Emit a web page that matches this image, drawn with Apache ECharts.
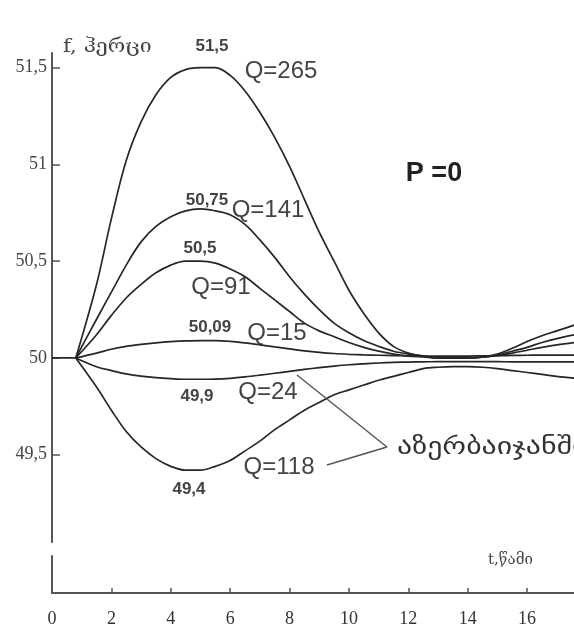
<!DOCTYPE html>
<html>
<head>
<meta charset="utf-8">
<script src="https://cdn.jsdelivr.net/npm/echarts@6/dist/echarts.min.js"></script>
<style>
html,body{margin:0;padding:0;background:#fff;}
#chart{width:574px;height:633px;}
</style>
</head>
<body>
<div id="chart"></div>
<script>
// ---- data ----
const baseT = [0, 0.8];
const baseF = [50, 50];
const tValues = [0.8,1.5,2,2.5,3,3.5,4,4.5,5,5.5,6,6.5,7,7.5,8,8.5,9,9.5,10,10.5,11,11.5,12,12.5,13,13.5,14,14.5,15,15.5,16,16.5,17,17.6];
const q265 = [50,50.38,50.72,51.02,51.22,51.36,51.45,51.49,51.5,51.5,51.46,51.38,51.27,51.14,50.99,50.82,50.65,50.5,50.35,50.23,50.13,50.06,50.025,50.01,50,50,50,50.005,50.02,50.05,50.085,50.115,50.14,50.17];
const q141 = [50,50.2,50.34,50.48,50.6,50.68,50.73,50.76,50.77,50.76,50.74,50.69,50.61,50.52,50.42,50.33,50.25,50.18,50.13,50.09,50.06,50.035,50.02,50.01,50,50,50,50.005,50.015,50.035,50.055,50.08,50.1,50.12];
const q91  = [50,50.12,50.22,50.31,50.38,50.44,50.48,50.5,50.5,50.49,50.46,50.42,50.36,50.3,50.24,50.18,50.14,50.11,50.08,50.055,50.035,50.02,50.01,50.005,50,50,50,50.005,50.012,50.025,50.04,50.055,50.068,50.08];
const q15  = [50,50.025,50.045,50.06,50.07,50.078,50.084,50.088,50.09,50.09,50.086,50.078,50.068,50.057,50.047,50.037,50.029,50.023,50.019,50.016,50.014,50.012,50.011,50.01,50.01,50.01,50.01,50.011,50.012,50.013,50.014,50.015,50.015,50.015];
const q24  = [50,49.955,49.935,49.918,49.906,49.898,49.893,49.89,49.89,49.891,49.895,49.902,49.911,49.921,49.931,49.941,49.95,49.958,49.965,49.97,49.974,49.977,49.979,49.98,49.981,49.981,49.981,49.981,49.981,49.98,49.98,49.98,49.98,49.98];
const q118 = [50,49.85,49.73,49.62,49.54,49.48,49.44,49.42,49.42,49.44,49.47,49.52,49.57,49.63,49.68,49.73,49.77,49.81,49.835,49.86,49.885,49.905,49.925,49.945,49.952,49.955,49.955,49.952,49.945,49.935,49.925,49.915,49.905,49.895];
const leaderT = [8.25, 11.28, 9.26];
const leaderF = [49.912, 49.54, 49.447];
const yTicks = [49.5, 50, 50.5, 51, 51.5];
const xLabels = [0, 2, 4, 6, 8, 10, 12, 14, 16];
const xTickMarks = [2, 4, 6, 8, 10, 12, 14, 16];
const yTitle = 'f, ჰერცი';
const xTitle = 't,წამი';
const curveNames = ['Q=265','Q=141','Q=91','Q=15','Q=24','Q=118'];
const valueTexts = ['51,5','50,75','50,5','50,09','49,9','49,4'];
const pText = 'P =0';
const regionText = 'აზერბაიჯანში';

// ---- chart ----
const chart = echarts.init(document.getElementById('chart'), null, {renderer:'canvas'});
const pair = (xs, ys) => xs.map((x, i) => [x, ys[i]]);
const curves = [q265, q141, q91, q15, q24, q118];
const XMAX = 17.58;
const lineColor = '#262626';

const series = [{
  type:'line', xAxisIndex:0, yAxisIndex:0, data: pair(baseT, baseF),
  symbol:'none', lineStyle:{color:lineColor, width:1.7}, silent:true
}];
curves.forEach((c, i) => {
  series.push({
    type:'line', name: curveNames[i], xAxisIndex:0, yAxisIndex:0,
    data: pair(tValues, c), smooth:0.35, symbol:'none',
    lineStyle:{color:lineColor, width:1.7}, silent:true
  });
});
series.push({
  type:'line', xAxisIndex:0, yAxisIndex:0, data: pair(leaderT, leaderF),
  symbol:'none', lineStyle:{color:'#555', width:1.4}, silent:true
});

const sans = '"Liberation Sans", Arial, sans-serif';
const geo = '"DejaVu Sans", sans-serif';
function txt(text, x, y, size, opts) {
  opts = opts || {};
  return {
    type:'text', x: x, y: y, silent:true,
    scaleX: opts.scaleX || 1,
    style:{
      text: text, fill: opts.fill || '#444',
      font: (opts.weight || 'normal') + ' ' + size + 'px ' + (opts.family || sans),
      textAlign: opts.align || 'center', textVerticalAlign:'middle'
    }
  };
}
const graphics = [
  txt(valueTexts[0], 212, 46, 17, {weight:'bold'}),
  txt(curveNames[0], 281, 71, 24),
  txt(valueTexts[1], 207, 200, 17, {weight:'bold'}),
  txt(curveNames[1], 268, 210, 24),
  txt(valueTexts[2], 200, 248, 17, {weight:'bold'}),
  txt(curveNames[2], 221, 287, 24),
  txt(valueTexts[3], 210, 327, 17, {weight:'bold'}),
  txt(curveNames[3], 277, 333, 24),
  txt(valueTexts[4], 197, 396, 17, {weight:'bold'}),
  txt(curveNames[4], 268, 392, 24),
  txt(curveNames[5], 279, 467, 24),
  txt(valueTexts[5], 189, 489, 17, {weight:'bold'}),
  txt(pText, 434, 174, 27, {weight:'bold', fill:'#222'}),
  txt(regionText, 397, 448, 23, {align:'left', family:geo, fill:'#333', scaleX:1.3}),
  txt(yTitle, 63, 47, 19, {align:'left', family:'"DejaVu Serif", serif', fill:'#444', scaleX:1.12}),
  txt(xTitle, 488, 560, 15, {align:'left', family:'"DejaVu Serif", serif', fill:'#444'})
];

const axisLine = {show:true, lineStyle:{color:'#555', width:2}};
const serif = '"Liberation Serif", "Times New Roman", serif';

chart.setOption({
  animation:false,
  backgroundColor:'#fff',
  grid:[
    {left:52, right:0, top:53, height:489, containLabel:false},
    {left:52, right:0, top:556, height:37, containLabel:false}
  ],
  xAxis:[
    {gridIndex:0, type:'value', min:0, max:XMAX, show:false},
    {gridIndex:1, type:'value', min:0, max:XMAX, interval:2,
     axisLine: axisLine,
     axisTick:{show:true, inside:true, length:5, lineStyle:{color:'#555', width:1.5}, customValues: xTickMarks},
     axisLabel:{show:true, margin:17, color:'#333', fontSize:18, fontFamily:serif, customValues: xLabels},
     splitLine:{show:false}}
  ],
  yAxis:[
    {gridIndex:0, type:'value', min:49.049, max:51.576,
     axisLine: axisLine,
     axisTick:{show:true, inside:true, length:8, lineStyle:{color:'#555', width:1.5}, customValues: yTicks},
     axisLabel:{show:true, margin:5, color:'#444', fontSize:18, fontFamily:serif, customValues: yTicks,
       formatter: v => String(v).replace('.', ',')},
     splitLine:{show:false}},
    {gridIndex:1, type:'value', min:0, max:1,
     axisLine: axisLine, axisTick:{show:false}, axisLabel:{show:false}, splitLine:{show:false}}
  ],
  series: series,
  graphic: graphics
});
</script>
</body>
</html>
